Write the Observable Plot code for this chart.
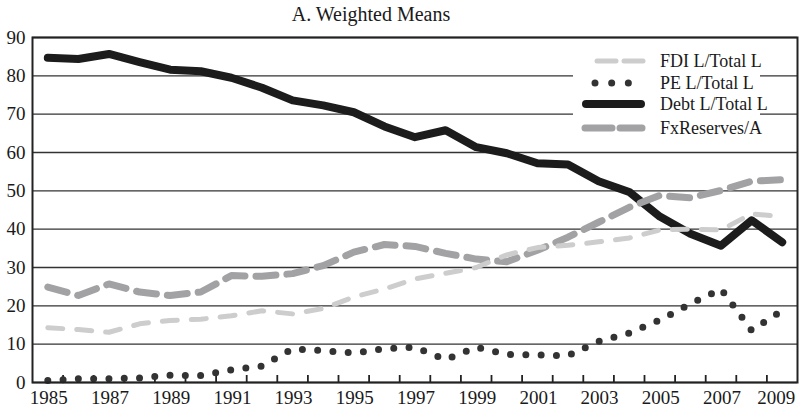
<!DOCTYPE html>
<html><head><meta charset="utf-8">
<script src="https://cdn.jsdelivr.net/npm/d3@7"></script>
<script src="https://cdn.jsdelivr.net/npm/@observablehq/plot@0.6"></script>
<style>body{margin:0;background:#fff}</style>
</head><body><div id="chart"></div>
<script>
const title = "A. Weighted Means";
const years = [1985,1986,1987,1988,1989,1990,1991,1992,1993,1994,1995,1996,1997,1998,1999,2000,2001,2002,2003,2004,2005,2006,2007,2008,2009];
const fdi  = [14.3,13.8,13.1,15.3,16.2,16.5,17.4,18.7,17.9,19.3,22.3,24.4,27.0,28.5,30.0,33.3,35.2,35.8,36.7,37.7,39.8,40.0,39.8,44.0,43.3];
const pe   = [0.5,1.0,1.0,1.2,1.9,1.8,3.3,4.3,8.8,8.3,7.7,8.8,9.2,6.0,9.2,7.3,7.2,7.0,10.7,12.9,16.3,20.5,24.4,13.6,18.8];
const debt = [84.7,84.4,85.7,83.6,81.6,81.2,79.5,76.9,73.6,72.3,70.5,66.8,64.0,65.8,61.4,59.8,57.2,56.9,52.5,49.7,43.3,38.8,35.7,42.3,36.6];
const fx   = [24.9,22.7,25.7,23.6,22.7,23.6,27.9,27.7,28.4,30.5,34.0,36.0,35.5,33.7,32.2,31.5,34.5,37.9,41.8,45.7,48.8,48.2,50.1,52.5,52.9];
const yTicks = [0,10,20,30,40,50,60,70,80,90];
const labelYears = [1985,1987,1989,1991,1993,1995,1997,1999,2001,2003,2005,2007,2009];
const seriesNames = ["FDI L/Total L","PE L/Total L","Debt L/Total L","FxReserves/A"];

const rows = years.map((year, i) => ({year, fdi: fdi[i], pe: pe[i], debt: debt[i], fx: fx[i]}));
const boundaries = years.slice(1).map(y => y - 0.5);
const lastLabel = labelYears[labelYears.length - 1];

const FONT = "'Liberation Serif', 'Times New Roman', serif";
const st = {
  fdi:  {stroke: "#cdcdcd", strokeWidth: 5, strokeDasharray: "15 14", strokeLinecap: "round", strokeLinejoin: "round"},
  pe:   {stroke: "#333333", strokeWidth: 7, strokeDasharray: "0 15.3", strokeLinecap: "round", strokeLinejoin: "round"},
  debt: {stroke: "#1c1c1c", strokeWidth: 8, strokeLinecap: "round", strokeLinejoin: "round"},
  fx:   {stroke: "#a2a2a4", strokeWidth: 7, strokeDasharray: "20 11", strokeLinecap: "round", strokeLinejoin: "round"}
};
const xLabelOpts = {tickSize: 0, tickPadding: 8, tickFormat: d => String(d), label: null, fontSize: 19, fill: "#1a1a1a"};

const plot = Plot.plot({
  width: 799, height: 411,
  marginLeft: 32, marginRight: 2, marginTop: 37, marginBottom: 29,
  style: {fontFamily: FONT, fontSize: "19px", color: "#1a1a1a", background: "white"},
  x: {domain: [1984.5, 2009.5]},
  y: {domain: [0, 90]},
  marks: [
    Plot.ruleY(yTicks, {stroke: "#333", strokeWidth: 1.3}),
    Plot.axisY(yTicks, {tickSize: 0, tickPadding: 7, label: null, fontSize: 19, fill: "#1a1a1a"}),
    Plot.axisX(boundaries, {tickSize: -7, fill: "none", label: null, stroke: "#222", strokeWidth: 1.8}),
    Plot.axisX(labelYears.slice(0, -1), {...xLabelOpts, dx: 1}),
    Plot.axisX([lastLabel], {...xLabelOpts, dx: -6}),
    Plot.line(rows, {x: "year", y: "debt", ...st.debt}),
    Plot.line(rows, {x: "year", y: "fx", ...st.fx}),
    Plot.line(rows, {x: "year", y: "fdi", ...st.fdi}),
    Plot.line(rows, {x: "year", y: "pe", ...st.pe}),
    Plot.frame({stroke: "#222", strokeWidth: 2})
  ]
});
document.getElementById("chart").append(plot);

const svg = d3.select(plot);
svg.append("text").attr("x", 371).attr("y", 21).attr("text-anchor", "middle")
  .style("font-family", FONT).style("font-size", "20px").attr("fill", "#1a1a1a").text(title);

// legend
const lg = svg.append("g").attr("text-anchor", "start");
lg.append("rect").attr("x", 573).attr("y", 46).attr("width", 187).attr("height", 92).attr("fill", "white");
const keys = ["fdi","pe","debt","fx"];
const rowY = [61, 83, 104, 128];
const samples = {
  fdi: [[597,616],[624,643]],
  pe: [[595,645]],
  debt: [[586,641]],
  fx: [[585,612],[620,642]]
};
keys.forEach((k, i) => {
  samples[k].forEach(([a, b]) => {
    const s = st[k];
    const ln = lg.append("line").attr("x1", a).attr("x2", b).attr("y1", rowY[i]).attr("y2", rowY[i])
      .attr("stroke", s.stroke).attr("stroke-width", s.strokeWidth).attr("stroke-linecap", "round");
    if (k === "pe") ln.attr("stroke-dasharray", "0 16.67");
  });
  lg.append("text").attr("x", 660).attr("y", rowY[i] + 6).attr("text-anchor", "start")
    .style("font-family", FONT).style("font-size", "18px").attr("fill", "#1a1a1a").text(seriesNames[i]);
});
</script>
</body></html>
